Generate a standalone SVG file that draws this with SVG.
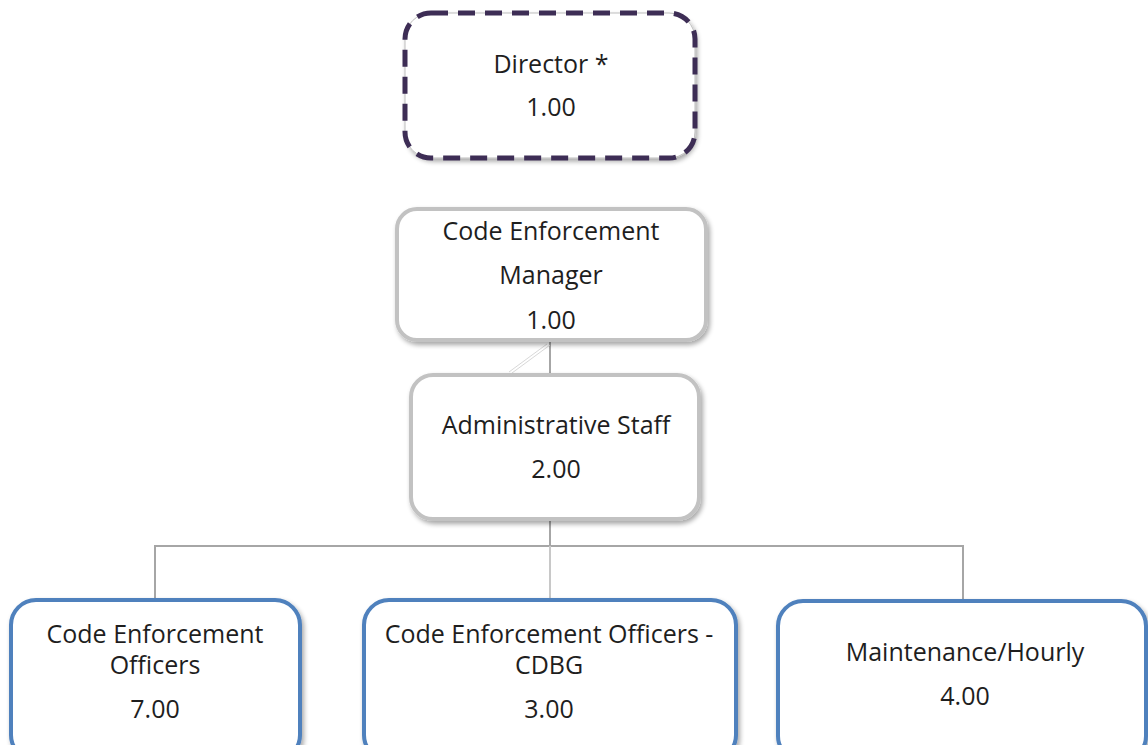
<svg xmlns="http://www.w3.org/2000/svg" width="1148" height="745" viewBox="0 0 1148 745">
<style>
text{font-family:"Open Sans","Noto Sans","Liberation Sans",sans-serif;font-size:25px;fill:#1e1e1e;text-anchor:middle}
.box{fill:#fff}
.grey{stroke:#c2c2c2;stroke-width:4}
.blue{stroke:#4f81bd;stroke-width:4}
.conn{stroke:#a6a6a6;stroke-width:2;fill:none}
</style>
<defs>
<filter id="sh" x="-10%" y="-10%" width="125%" height="130%">
<feGaussianBlur in="SourceAlpha" stdDeviation="2.5"/>
<feOffset dx="2" dy="3" result="o"/>
<feComponentTransfer><feFuncA type="linear" slope="0.35"/></feComponentTransfer>
<feMerge><feMergeNode/><feMergeNode in="SourceGraphic"/></feMerge>
</filter>
</defs>
<rect width="1148" height="745" fill="#fff"/>
<g id="connectors">
<line class="conn" x1="550" y1="340" x2="550" y2="375"/>
<line x1="547" y1="344" x2="509" y2="372" stroke="#d8d8d8" stroke-width="1"/>
<line x1="550" y1="345" x2="512" y2="373" stroke="#d8d8d8" stroke-width="1"/>
<line class="conn" x1="550" y1="519" x2="550" y2="546"/>
<polyline class="conn" points="155,598 155,546 963,546 963,600"/>
<line x1="550" y1="546" x2="550" y2="598" stroke="#c8c8c8" stroke-width="2"/>
</g>
<g id="director">
<rect class="box" x="405" y="13" width="290" height="145" rx="26" filter="url(#sh)" stroke="#bdbdbd" stroke-width="1"/>
<rect x="405" y="13" width="290" height="145" rx="26" fill="none" stroke="#3d2d55" stroke-width="5" stroke-dasharray="17,10"/>
<text x="551" y="73">Director *</text>
<text x="551" y="116">1.00</text>
</g>
<g id="manager">
<rect class="box grey" x="397" y="209" width="309" height="131" rx="20" filter="url(#sh)"/>
<text x="551" y="240">Code Enforcement</text>
<text x="551" y="284">Manager</text>
<text x="551" y="329">1.00</text>
</g>
<g id="admin">
<rect class="box grey" x="411" y="375" width="288" height="144" rx="22" filter="url(#sh)"/>
<text x="556" y="434">Administrative Staff</text>
<text x="556" y="478">2.00</text>
</g>
<g id="officers">
<rect class="box blue" x="11" y="600" width="289" height="160" rx="25" filter="url(#sh)"/>
<text x="155" y="643">Code Enforcement</text>
<text x="155" y="674">Officers</text>
<text x="155" y="718">7.00</text>
</g>
<g id="cdbg">
<rect class="box blue" x="364" y="600" width="372" height="160" rx="25" filter="url(#sh)"/>
<text x="549" y="643">Code Enforcement Officers -</text>
<text x="549" y="674">CDBG</text>
<text x="549" y="718">3.00</text>
</g>
<g id="maintenance">
<rect class="box blue" x="778" y="601" width="368" height="160" rx="25" filter="url(#sh)"/>
<text x="965" y="661">Maintenance/Hourly</text>
<text x="965" y="705">4.00</text>
</g>
</svg>
